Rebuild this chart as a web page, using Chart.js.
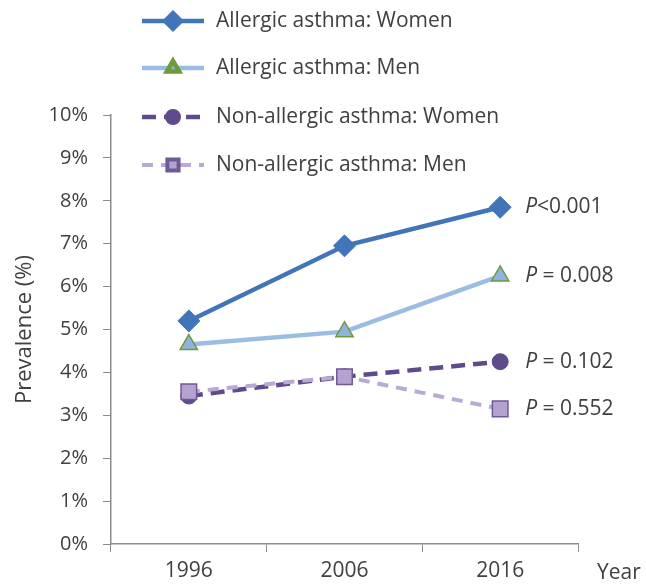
<!DOCTYPE html>
<html>
<head>
<meta charset="utf-8">
<script src="https://cdn.jsdelivr.net/npm/chart.js@4/dist/chart.umd.min.js"></script>
<style>
  html, body { margin: 0; padding: 0; background: #fff; }
  #wrap { width: 646px; height: 585px; }
</style>
</head>
<body>
<div id="wrap"><canvas id="asthmaChart" width="646" height="585"></canvas></div>
<script>
// ---- data ----
const years = ['1996', '2006', '2016'];
const allergicWomen = [5.2, 6.95, 7.85];
const allergicMen = [4.65, 4.95, 6.25];
const nonAllergicWomen = [3.45, 3.9, 4.25];
const nonAllergicMen = [3.55, 3.9, 3.15];
const seriesNames = ['Allergic asthma: Women', 'Allergic asthma: Men', 'Non-allergic asthma: Women', 'Non-allergic asthma: Men'];
const pValues = ['<0.001', ' = 0.008', ' = 0.102', ' = 0.552'];
const yTickValues = [0, 1, 2, 3, 4, 5, 6, 7, 8, 9, 10];

const FONT = 'Open Sans';
const TEXT = '#404040';
const AXIS = '#8c8c8c';

// legend drawn by hand so it can sit over the top of the plot, like the original
const sideLegend = {
    id: 'sideLegend',
    afterDraw(chart) {
        const ctx = chart.ctx;
        const rowY = [21, 68, 117, 165];
        ctx.save();
        chart.data.datasets.forEach((ds, i) => {
            const y = rowY[i];
            ctx.beginPath();
            ctx.setLineDash(ds.borderDash || []);
            ctx.lineWidth = ds.borderWidth;
            ctx.strokeStyle = ds.borderColor;
            ctx.moveTo(142, y);
            ctx.lineTo(204, y);
            ctx.stroke();
            ctx.setLineDash([]);
            ctx.fillStyle = ds.pointBackgroundColor;
            ctx.strokeStyle = ds.pointBorderColor;
            Chart.helpers.drawPoint(ctx, {
                pointStyle: ds.pointStyle,
                radius: ds.pointRadius * 0.72,
                rotation: 0,
                borderWidth: ds.pointBorderWidth
            }, 173, y);
            ctx.fillStyle = TEXT;
            ctx.font = '21px "' + FONT + '"';
            ctx.textAlign = 'left';
            ctx.textBaseline = 'middle';
            ctx.fillText(seriesNames[i], 216, y);
        });
        ctx.restore();
    }
};

// P values next to the 2016 points, plus the "Year" caption
const annotations = {
    id: 'annotations',
    afterDatasetsDraw(chart) {
        const ctx = chart.ctx;
        const xs = chart.scales.x, ys = chart.scales.y;
        const last = years.length - 1;
        ctx.save();
        ctx.textBaseline = 'middle';
        ctx.textAlign = 'left';
        ctx.fillStyle = TEXT;
        chart.data.datasets.forEach((ds, i) => {
            const x = xs.getPixelForValue(last) + 25;
            const y = ys.getPixelForValue(ds.data[last]);
            ctx.font = 'italic 21px "' + FONT + '"';
            ctx.fillText('P', x, y);
            const w = ctx.measureText('P').width;
            ctx.font = '21px "' + FONT + '"';
            ctx.fillText(pValues[i], x + w, y);
        });
        ctx.font = '21px "' + FONT + '"';
        ctx.fillText('Year', chart.chartArea.right + 19, chart.chartArea.bottom + 29);
        ctx.restore();
    }
};

new Chart(document.getElementById('asthmaChart'), {
    type: 'line',
    data: {
        labels: years,
        datasets: [
            {
                label: seriesNames[0],
                data: allergicWomen,
                borderColor: '#4274b8',
                borderWidth: 4.5,
                pointStyle: 'rectRot',
                pointRadius: 11,
                pointBackgroundColor: '#4274b8',
                pointBorderColor: '#4274b8',
                pointBorderWidth: 1,
                order: 1
            },
            {
                label: seriesNames[1],
                data: allergicMen,
                borderColor: '#9bbde3',
                borderWidth: 4.5,
                pointStyle: 'triangle',
                pointRadius: 10,
                pointBackgroundColor: '#8fb3e0',
                pointBorderColor: '#6f9a3a',
                pointBorderWidth: 1.5,
                order: 2
            },
            {
                label: seriesNames[2],
                data: nonAllergicWomen,
                borderColor: '#5f4a8b',
                borderWidth: 4.5,
                borderDash: [14, 8],
                pointStyle: 'circle',
                pointRadius: 8,
                pointBackgroundColor: '#5f4a8b',
                pointBorderColor: '#5f4a8b',
                pointBorderWidth: 1,
                order: 3
            },
            {
                label: seriesNames[3],
                data: nonAllergicMen,
                borderColor: '#b8a9d6',
                borderWidth: 4,
                borderDash: [11, 8],
                pointStyle: 'rect',
                pointRadius: 11,
                pointBackgroundColor: '#b4a3cf',
                pointBorderColor: '#6f5a96',
                pointBorderWidth: 1.5,
                order: 0
            }
        ]
    },
    options: {
        responsive: false,
        animation: false,
        layout: { padding: { left: 0, top: 115, right: 68, bottom: 0 } },
        plugins: {
            legend: { display: false },
            tooltip: { enabled: false }
        },
        scales: {
            x: {
                offset: true,
                grid: { offset: true, drawOnChartArea: false, drawTicks: true, tickLength: 8, color: AXIS },
                border: { color: AXIS, width: 1.5 },
                ticks: { color: TEXT, padding: 6, font: { family: FONT, size: 21 } },
                afterFit(scale) { scale.height = 41; }
            },
            y: {
                min: 0,
                max: 10,
                afterBuildTicks(scale) { scale.ticks = yTickValues.map(v => ({ value: v })); },
                grid: { drawOnChartArea: false, drawTicks: true, tickLength: 8, color: AXIS },
                border: { color: AXIS, width: 1.5 },
                ticks: { color: TEXT, padding: 15, font: { family: FONT, size: 20 }, callback: v => v + '%' },
                title: { display: true, text: 'Prevalence (%)', color: TEXT, padding: { top: 12 }, font: { family: FONT, size: 22 } },
                afterFit(scale) { scale.width = 111; }
            }
        }
    },
    plugins: [sideLegend, annotations]
});
</script>
</body>
</html>
